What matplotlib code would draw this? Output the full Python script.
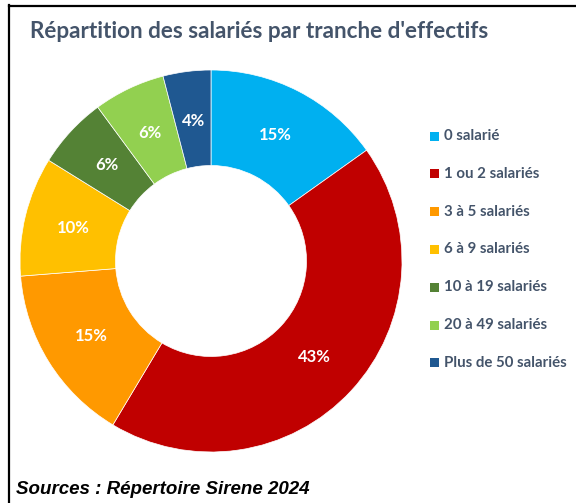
import matplotlib.pyplot as plt
from matplotlib.patches import Rectangle
from matplotlib.lines import Line2D

categories = ['0 salarié', '1 ou 2 salariés', '3 à 5 salariés', '6 à 9 salariés',
              '10 à 19 salariés', '20 à 49 salariés', 'Plus de 50 salariés']
shares = [15, 43, 15, 10, 6, 6, 4]
labels = ['15%', '43%', '15%', '10%', '6%', '6%', '4%']
colors = ['#00B0F0', '#C00000', '#FF9900', '#FFC000', '#548235', '#92D050', '#1F5891']

W, H = 576, 503
fig = plt.figure(figsize=(W / 100, H / 100), dpi=100)
fig.patch.set_facecolor('white')

def fx(px):
    return px / W

def fy(py):
    return 1 - py / H

# cadre noir (coupé à droite et en bas)
fig.add_artist(Line2D([fx(9), fx(9)], [fy(5), 0], color='black', lw=1.6))
fig.add_artist(Line2D([fx(9), 1], [fy(5.5), fy(5.5)], color='black', lw=1.6))

# donut
cx, cy, R = 211, 261, 191
ax = fig.add_axes([fx(cx - R), fy(cy + R), 2 * R / W, 2 * R / H])
wedges, texts = ax.pie(shares, colors=colors, startangle=90, counterclock=False,
                       radius=1, labels=labels, labeldistance=0.74,
                       wedgeprops=dict(width=0.5, edgecolor='white', linewidth=0.5),
                       textprops=dict(color='white', fontsize=12, fontweight='bold',
                                      family='Lato', ha='center', va='center'))
ax.set_xlim(-1, 1)
ax.set_ylim(-1, 1)
ax.set_aspect('equal')

fig.text(fx(30), fy(31), "Répartition des salariés par tranche d'effectifs",
         fontsize=16.2, fontweight='bold', family='Lato', color='#44546A',
         ha='left', va='center')

# légende
for i, (cat, col) in enumerate(zip(categories, colors)):
    ycen = 136 + 37.8 * i
    fig.add_artist(Rectangle((fx(430), fy(ycen + 4.5)), 9 / W, 9 / H,
                             facecolor=col, edgecolor='none'))
    fig.text(fx(444), fy(ycen), cat, fontsize=10.8, fontweight='bold', family='Lato',
             color='#44546A', ha='left', va='center')

fig.text(fx(16), fy(490), 'Sources : Répertoire Sirene 2024', fontsize=13.5,
         fontweight='bold', fontstyle='italic', family='Liberation Sans',
         color='black', ha='left', va='center')

fig.savefig('out.png', dpi=100)
